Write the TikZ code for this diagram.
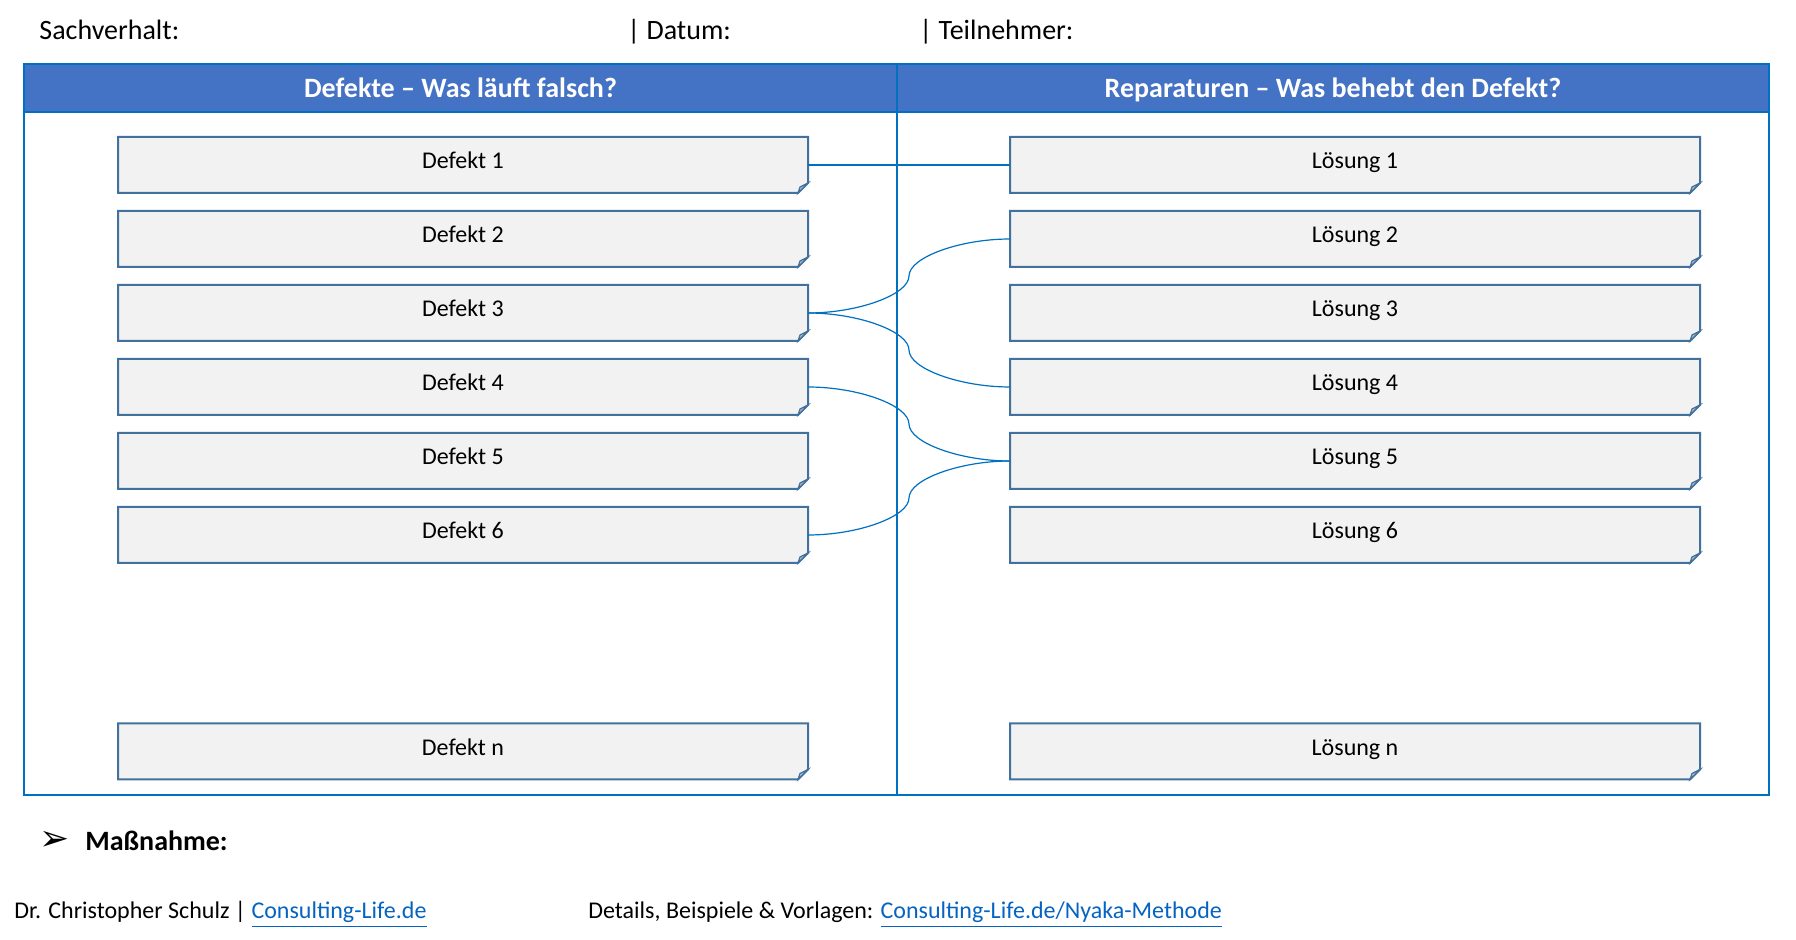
\documentclass[tikz,border=0pt]{standalone}
\usepackage{fontspec}
\setmainfont{Carlito}
\newfontfamily\dingfont{DejaVu Sans}
\usetikzlibrary{calc}
\usetikzlibrary{positioning}
\usetikzlibrary{backgrounds}
\definecolor{hdrblue}{HTML}{4472C4}
\definecolor{frameblue}{HTML}{0070C0}
\definecolor{boxline}{HTML}{41719C}
\definecolor{boxfill}{HTML}{F2F2F2}
\definecolor{foldfill}{HTML}{B4C0CE}
\definecolor{linkblue}{HTML}{0563C1}

\begin{document}
\begin{tikzpicture}[x=0.5pt,y=-0.5pt,
  box/.style={minimum width=345pt,minimum height=28pt,inner sep=0pt,outer sep=0pt,text height=9pt,text depth=5pt,font=\fontsize{12}{14}\selectfont},
  txt/.style={anchor=base west,inner sep=0pt,font=\fontsize{14}{17}\selectfont},
  foot/.style={anchor=base west,inner sep=0pt,font=\fontsize{12}{14}\selectfont},
  hdr/.style={anchor=base,inner sep=0pt,text=white,font=\fontsize{14}{17}\selectfont\bfseries},
  conn/.style={draw=frameblue,line width=0.6pt,to path={
    let \p1=(\tikztostart), \p2=(\tikztotarget) in
    .. controls ({(3*\x1+\x2)/4},\y1) and ({(\x1+\x2)/2},{(3*\y1+\y2)/4}) .. ({(\x1+\x2)/2},{(\y1+\y2)/2})
    .. controls ({(\x1+\x2)/2},{(\y1+3*\y2)/4}) and ({(\x1+3*\x2)/4},\y2) .. (\tikztotarget)}}]

\useasboundingbox (0,0) rectangle (1796,940);

\node[txt] (sach) at (39,39.5) {Sachverhalt:};
\node[txt] (dat) at (627,39.5) {| Datum:};
\node[txt] (teil) at (919,39.5) {| Teilnehmer:};

\fill[hdrblue] (24,64) rectangle (1769,112);
\draw[frameblue,line width=1pt] (24,112) -- (1769,112);
\draw[frameblue,line width=1pt] (24,64) rectangle (1769,795);
\draw[frameblue,line width=1pt] (897,64) -- (897,795);
\node[hdr] (hl) at (460.5,98) {Defekte – Was läuft falsch?};
\node[hdr] (hr) at (1333,98) {Reparaturen – Was behebt den Defekt?};

\node[box] (d1) at (463,165) {Defekt 1};
\node[box,below=9pt of d1] (d2) {Defekt 2};
\node[box,below=9pt of d2] (d3) {Defekt 3};
\node[box,below=9pt of d3] (d4) {Defekt 4};
\node[box,below=9pt of d4] (d5) {Defekt 5};
\node[box,below=9pt of d5] (d6) {Defekt 6};
\node[box] (dn) at (463,751.5) {Defekt n};

\node[box,right=101pt of d1] (l1) {Lösung 1};
\node[box,right=101pt of d2] (l2) {Lösung 2};
\node[box,right=101pt of d3] (l3) {Lösung 3};
\node[box,right=101pt of d4] (l4) {Lösung 4};
\node[box,right=101pt of d5] (l5) {Lösung 5};
\node[box,right=101pt of d6] (l6) {Lösung 6};
\node[box,right=101pt of dn] (ln) {Lösung n};

\begin{scope}[on background layer]
\foreach \n in {d1,d2,d3,d4,d5,d6,dn,l1,l2,l3,l4,l5,l6,ln} {
  \draw[boxline,fill=boxfill,line width=1pt] (\n.north west) -- (\n.north east) -- ([yshift=5pt]\n.south east) -- ([xshift=-5pt]\n.south east) -- (\n.south west) -- cycle;
  \draw[boxline,fill=foldfill,line width=0.6pt] ([xshift=-5pt]\n.south east) -- ([xshift=-4pt,yshift=3pt]\n.south east) -- ([yshift=5pt]\n.south east) -- cycle;
}
\end{scope}

\draw[conn] (d1.east) to (l1.west);
\draw[conn] (d3.east) to (l2.west);
\draw[conn] (d3.east) to (l4.west);
\draw[conn] (d4.east) to (l5.west);
\draw[conn] (d6.east) to (l5.west);

\node[anchor=base west,inner sep=0pt,font=\dingfont\fontsize{18}{20}\selectfont] (pfeil) at (39,851) {➢};
\node[txt,font=\fontsize{14}{17}\selectfont\bfseries] (mass) at (85,851) {Maßnahme:};

\node[foot] (autor) at (14,919) {Dr. Christopher Schulz | {\color{linkblue}\underline{Consulting-Life.de}}};
\node[foot] (details) at (588,919) {Details, Beispiele \& Vorlagen: {\color{linkblue}\underline{Consulting-Life.de/Nyaka-Methode}}};

\end{tikzpicture}
\end{document}
